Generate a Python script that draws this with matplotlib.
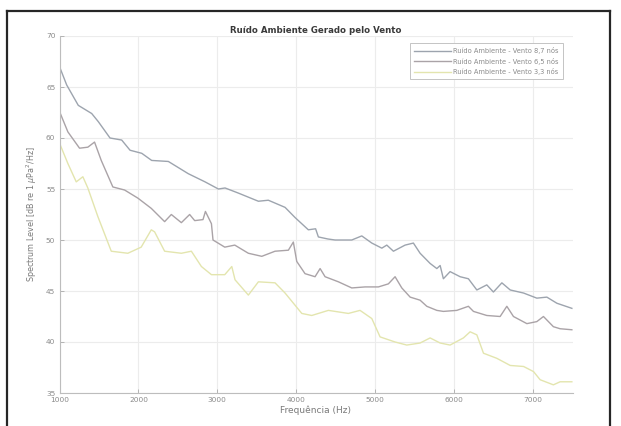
import matplotlib
matplotlib.use("Agg")
import matplotlib.pyplot as plt
from matplotlib.lines import Line2D

plt.rcParams['font.family'] = ['DejaVu Sans']

title = "Ruído Ambiente Gerado pelo Vento"
xlabel = "Frequência (Hz)"
ylabel = "Spectrum Level [dB re 1 $\\mu$Pa$^2$/Hz]"
labels = ["Ruído Ambiente - Vento 8,7 nós",
          "Ruído Ambiente - Vento 6,5 nós",
          "Ruído Ambiente - Vento 3,3 nós"]
xticks = [1000, 2000, 3000, 4000, 5000, 6000, 7000]
yticks = [35, 40, 45, 50, 55, 60, 65, 70]

freq_87 = [1000, 1091, 1238, 1408, 1492, 1640, 1788, 1894, 2042, 2168, 2379, 2632,
           2844, 3013, 3098, 3266, 3520, 3646, 3858, 3985, 4153, 4245, 4280, 4400,
           4492, 4703, 4830, 4957, 5084, 5147, 5231, 5379, 5484, 5569, 5696, 5781,
           5823, 5864, 5949, 6076, 6181, 6288, 6414, 6498, 6605, 6711, 6880, 7048,
           7175, 7302, 7492]
level_87 = [67.0, 65.2, 63.2, 62.4, 61.6, 60.0, 59.8, 58.8, 58.5, 57.8, 57.7, 56.5,
            55.7, 55.0, 55.1, 54.6, 53.8, 53.9, 53.2, 52.2, 51.0, 51.1, 50.3, 50.1,
            50.0, 50.0, 50.4, 49.7, 49.2, 49.5, 48.9, 49.5, 49.7, 48.7, 47.7, 47.2,
            47.5, 46.2, 46.9, 46.4, 46.2, 45.1, 45.6, 44.9, 45.8, 45.1, 44.8, 44.3,
            44.4, 43.8, 43.3]

freq_65 = [1000, 1106, 1254, 1359, 1444, 1529, 1676, 1825, 1994, 2163, 2332, 2417,
           2544, 2649, 2713, 2818, 2849, 2925, 2945, 3094, 3221, 3393, 3563, 3731,
           3900, 3963, 4006, 4111, 4238, 4302, 4365, 4534, 4703, 4872, 5041, 5167,
           5252, 5337, 5443, 5569, 5654, 5781, 5864, 6034, 6181, 6245, 6414, 6583,
           6668, 6752, 6922, 7048, 7132, 7258, 7343, 7492]
level_65 = [62.6, 60.6, 59.0, 59.1, 59.6, 57.8, 55.2, 54.9, 54.1, 53.1, 51.8, 52.5,
            51.7, 52.5, 51.9, 52.0, 52.8, 51.6, 50.0, 49.3, 49.5, 48.7, 48.4, 48.9,
            49.0, 49.8, 47.9, 46.7, 46.4, 47.2, 46.4, 45.9, 45.3, 45.4, 45.4, 45.7,
            46.4, 45.3, 44.4, 44.1, 43.5, 43.1, 43.0, 43.1, 43.5, 43.0, 42.6, 42.5,
            43.5, 42.5, 41.8, 42.0, 42.5, 41.5, 41.3, 41.2]

freq_33 = [1000, 1106, 1212, 1296, 1359, 1486, 1656, 1866, 2035, 2163, 2205, 2332,
           2544, 2671, 2798, 2925, 3094, 3183, 3224, 3393, 3520, 3731, 3858, 4070,
           4196, 4407, 4660, 4808, 4957, 5062, 5252, 5400, 5569, 5696, 5823, 5949,
           6118, 6203, 6288, 6372, 6541, 6711, 6880, 7006, 7090, 7258, 7343, 7492]
level_33 = [59.5, 57.5, 55.7, 56.2, 55.1, 52.3, 48.9, 48.7, 49.3, 51.0, 50.8, 48.9,
            48.7, 48.9, 47.4, 46.6, 46.6, 47.4, 46.1, 44.6, 45.9, 45.8, 44.8, 42.8,
            42.6, 43.1, 42.8, 43.1, 42.3, 40.5, 40.0, 39.7, 39.9, 40.4, 39.9, 39.7,
            40.4, 41.0, 40.7, 38.9, 38.4, 37.7, 37.6, 37.1, 36.3, 35.8, 36.1, 36.1]

colors = ["#9da4ae", "#aaa3a7", "#e3e5ae"]

W, H = 621, 426
fig = plt.figure(figsize=(W / 100, H / 100), dpi=100)
ax = fig.add_axes([59.5 / W, 1 - 393 / H, (572.5 - 59.5) / W, (393 - 36) / H])

ax.plot(freq_87, level_87, color=colors[0], lw=1.0, label=labels[0])
ax.plot(freq_65, level_65, color=colors[1], lw=1.0, label=labels[1])
ax.plot(freq_33, level_33, color=colors[2], lw=1.0, label=labels[2])

ax.set_xlim(1000, 7500)
ax.set_ylim(35, 70)
ax.set_xticks(xticks)
ax.set_yticks(yticks)
ax.grid(True, color="#ececec", lw=0.8)
ax.set_axisbelow(True)
for s in ["top", "right"]:
    ax.spines[s].set_visible(False)
for s in ["left", "bottom"]:
    ax.spines[s].set_color("#bdbdbd")
    ax.spines[s].set_linewidth(0.8)
ax.tick_params(direction="in", length=3, width=0.6, color="#aaaaaa",
               labelsize=5.3, labelcolor="#8a8a8a", pad=3)

ax.set_title(title, fontsize=6.2, fontweight="bold", color="#3a3a3a", pad=2)
ax.set_xlabel(xlabel, fontsize=6.5, color="#7a7a7a", labelpad=2)
ax.set_ylabel(ylabel, fontsize=5.8, color="#7a7a7a", labelpad=5)

leg = ax.legend(loc="upper right", bbox_to_anchor=(1 - 9.5 / 513, 1 - 7 / 357),
                borderaxespad=0, fontsize=4.8, frameon=True, fancybox=False,
                edgecolor="#c4c4c4", framealpha=1, handlelength=5.5,
                handletextpad=0.4, labelspacing=0.55, borderpad=0.6)
leg.get_frame().set_linewidth(0.7)
for t in leg.get_texts():
    t.set_color("#8a8a8a")

# outer dark frame
def fx(x):
    return x / W
def fy(y):
    return 1 - y / H
frame_kw = dict(color="#262626", lw=1.6, transform=fig.transFigure)
fig.add_artist(Line2D([fx(7), fx(7)], [fy(10.5), 0], **frame_kw))
fig.add_artist(Line2D([fx(7), fx(610)], [fy(10.5), fy(10.5)], **frame_kw))
fig.add_artist(Line2D([fx(610), fx(610)], [fy(10.5), 0], **frame_kw))

fig.savefig("out.png", dpi=100)
